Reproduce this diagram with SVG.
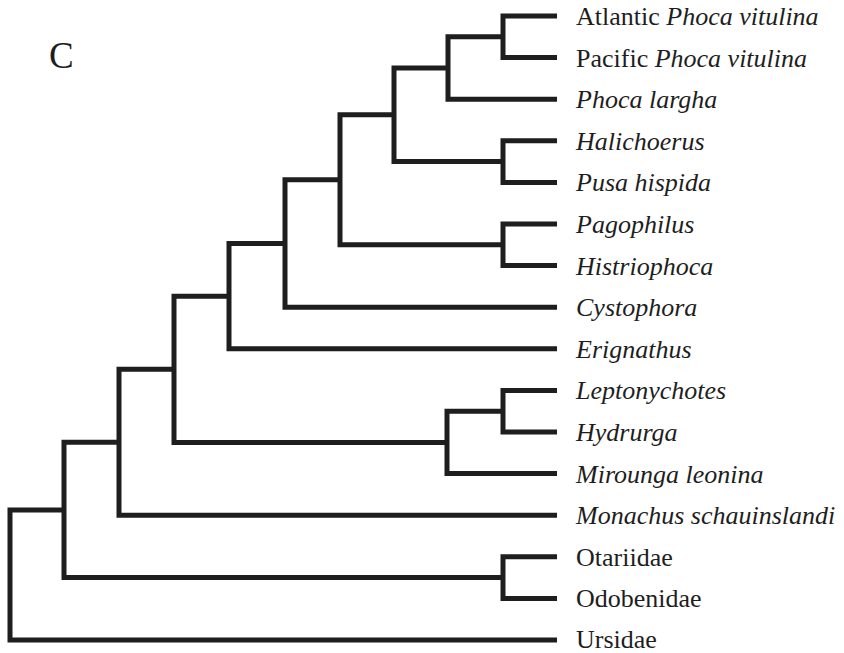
<svg xmlns="http://www.w3.org/2000/svg" width="844" height="653" viewBox="0 0 844 653">
<style>
.br{fill:none;stroke:#1e1e1e;stroke-width:5;stroke-linejoin:miter;stroke-linecap:butt}
.lb{font-family:"Liberation Serif","Times New Roman",serif;font-size:26px;fill:#1e1e1e}
.it{font-style:italic}
.pl{font-family:"Liberation Serif","Times New Roman",serif;font-size:37px;fill:#1e1e1e}
</style>
<rect width="844" height="653" fill="#ffffff"/>
<text id="panel" class="pl" x="49" y="68">C</text>
<g id="connectors">
<path class="br" d="M557 16 H503 V57.6 H557"/>
<path class="br" d="M503 36.8 H448 V99.2 H557"/>
<path class="br" d="M557 140.8 H503 V182.4 H557"/>
<path class="br" d="M448 68 H394 V161.6 H503"/>
<path class="br" d="M557 224 H503 V265.6 H557"/>
<path class="br" d="M394 114.8 H340 V244.8 H503"/>
<path class="br" d="M340 179.8 H285 V307.2 H557"/>
<path class="br" d="M285 243.5 H229 V348.8 H557"/>
<path class="br" d="M557 390.4 H503 V432 H557"/>
<path class="br" d="M503 411.2 H447 V473.6 H557"/>
<path class="br" d="M229 296.2 H174 V442.4 H447"/>
<path class="br" d="M174 369.3 H119 V515.2 H557"/>
<path class="br" d="M557 556.8 H503 V598.4 H557"/>
<path class="br" d="M119 442.2 H64 V577.6 H503"/>
<path class="br" d="M64 509.9 H10 V640 H557"/>
</g>
<g id="atlantic"><text class="lb" x="576" y="25">Atlantic <tspan class="it">Phoca vitulina</tspan></text></g>
<g id="pacific"><text class="lb" x="576" y="66.6">Pacific <tspan class="it">Phoca vitulina</tspan></text></g>
<g id="largha"><text class="lb it" x="576" y="108.2">Phoca largha</text></g>
<g id="halichoerus"><text class="lb it" x="576" y="149.8">Halichoerus</text></g>
<g id="pusa"><text class="lb it" x="576" y="191.4">Pusa hispida</text></g>
<g id="pagophilus"><text class="lb it" x="576" y="233">Pagophilus</text></g>
<g id="histriophoca"><text class="lb it" x="576" y="274.6">Histriophoca</text></g>
<g id="cystophora"><text class="lb it" x="576" y="316.2">Cystophora</text></g>
<g id="erignathus"><text class="lb it" x="576" y="357.8">Erignathus</text></g>
<g id="leptonychotes"><text class="lb it" x="576" y="399.4">Leptonychotes</text></g>
<g id="hydrurga"><text class="lb it" x="576" y="441">Hydrurga</text></g>
<g id="mirounga"><text class="lb it" x="576" y="482.6">Mirounga leonina</text></g>
<g id="monachus"><text class="lb it" x="576" y="524.2">Monachus schauinslandi</text></g>
<g id="otariidae"><text class="lb" x="576" y="565.8">Otariidae</text></g>
<g id="odobenidae"><text class="lb" x="576" y="607.4">Odobenidae</text></g>
<g id="ursidae"><text class="lb" x="576" y="647.5">Ursidae</text></g>
</svg>
